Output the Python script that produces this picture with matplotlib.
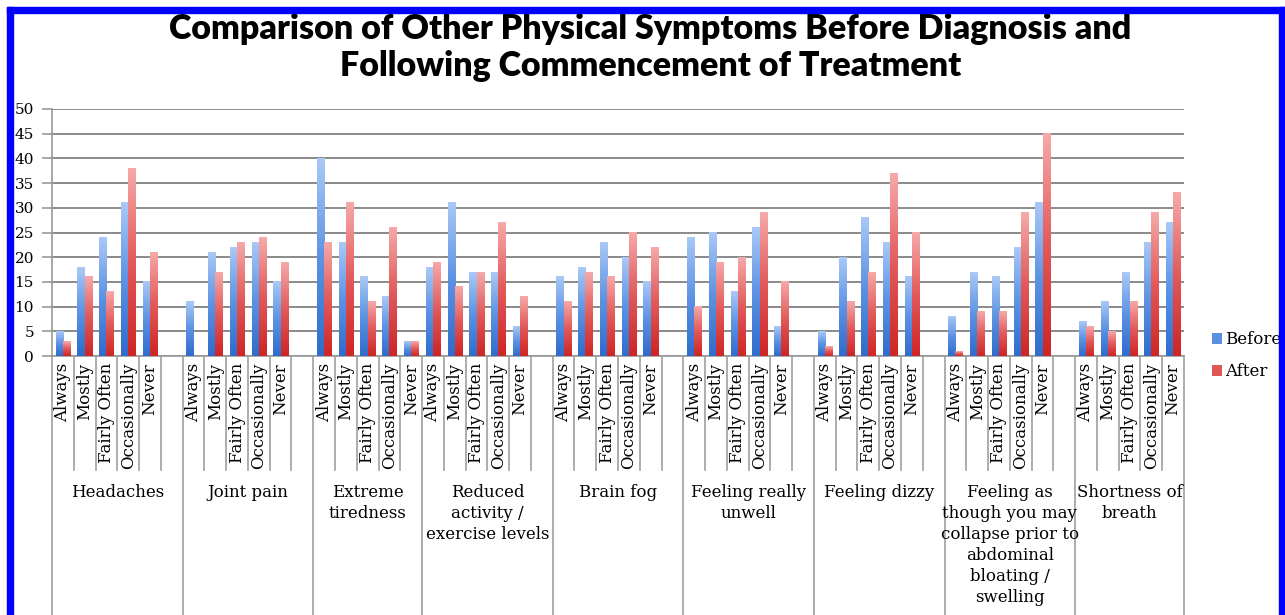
import numpy as np
import matplotlib
matplotlib.use("Agg")
import matplotlib.pyplot as plt
from matplotlib.colors import LinearSegmentedColormap
from matplotlib.patches import Rectangle, Patch

# Data
answers = ["Always", "Mostly", "Fairly Often", "Occasionally", "Never"]
symptoms = ["Headaches", "Joint pain", "Extreme\ntiredness",
            "Reduced\nactivity /\nexercise levels", "Brain fog",
            "Feeling really\nunwell", "Feeling dizzy",
            "Feeling as\nthough you may\ncollapse prior to\nabdominal\nbloating /\nswelling",
            "Shortness of\nbreath"]
# blank spacer category after each group (Excel chart had none after these two)
gap_after = [True, True, False, True, True, True, True, True, False]

before = [[5, 18, 24, 31, 15],
          [11, 21, 22, 23, 15],
          [40, 23, 16, 12, 3],
          [18, 31, 17, 17, 6],
          [16, 18, 23, 20, 15],
          [24, 25, 13, 26, 6],
          [5, 20, 28, 23, 16],
          [8, 17, 16, 22, 31],
          [7, 11, 17, 23, 27]]
after = [[3, 16, 13, 38, 21],
         [0, 17, 23, 24, 19],
         [23, 31, 11, 26, 3],
         [19, 14, 17, 27, 12],
         [11, 17, 16, 25, 22],
         [10, 19, 20, 29, 15],
         [2, 11, 17, 37, 25],
         [1, 9, 9, 29, 45],
         [6, 5, 11, 29, 33]]

serif = "DejaVu Serif"
W, H = 1285, 615
fig = plt.figure(figsize=(W / 100, H / 100), dpi=100)
ax = fig.add_axes([52 / W, 1 - 356 / H, (1184 - 52) / W, (356 - 109) / H])

# slot positions
slots = []
group_edges = []
pos = 0
for g in range(len(symptoms)):
    group_edges.append(pos)
    slots.extend(pos + k for k in range(5))
    pos += 5 + (1 if gap_after[g] else 0)
group_edges.append(pos)
n_slots = pos
slots = np.array(slots)

b_vals = np.array(before).ravel()
a_vals = np.array(after).ravel()

bw = 0.33
blue_cm = LinearSegmentedColormap.from_list("b", ["#2f6ccc", "#5d93e4", "#a9c8f6"])
red_cm = LinearSegmentedColormap.from_list("r", ["#cf2525", "#e25a5a", "#f6a8a8"])
grad = np.linspace(0, 1, 64).reshape(-1, 1)

bars_b = ax.bar(slots + 0.5 - bw / 2, b_vals, bw, color="none", zorder=3)
bars_a = ax.bar(slots + 0.5 + bw / 2, a_vals, bw, color="none", zorder=3)
for bars, cm in ((bars_b, blue_cm), (bars_a, red_cm)):
    for r in bars:
        h = r.get_height()
        if h <= 0:
            continue
        x0 = r.get_x()
        ax.imshow(grad, cmap=cm, origin="lower", aspect="auto", zorder=3,
                  extent=[x0, x0 + r.get_width(), 0, h], interpolation="bilinear")

ax.set_xlim(0, n_slots)
ax.set_ylim(0, 50)
ax.set_yticks(range(0, 51, 5))
ax.yaxis.grid(True, color="#8a8a8a", linewidth=1.4, zorder=0)
ax.set_axisbelow(True)
ax.set_xticks([])
for s in ["top", "right"]:
    ax.spines[s].set_visible(False)
for s in ["left", "bottom"]:
    ax.spines[s].set_color("#9a9a9a")
    ax.spines[s].set_linewidth(1.2)
ax.tick_params(axis="y", length=7, color="#9a9a9a", width=1.2, pad=6,
               labelsize=11)
for t in ax.get_yticklabels():
    t.set_fontfamily(serif)

# category separators under the axis
for e in range(n_slots + 1):
    bottom = -1.2 if e in group_edges else -0.46
    ax.plot([e, e], [0, bottom], transform=ax.get_xaxis_transform(),
            color="#a0a0a0", lw=1.2, clip_on=False)

for i, s in enumerate(slots):
    ax.text(s + 0.5, -0.028, answers[i % 5], rotation=90, ha="center", va="top",
            transform=ax.get_xaxis_transform(), fontsize=12, family=serif)

for g, name in enumerate(symptoms):
    cx = (group_edges[g] + group_edges[g + 1]) / 2
    ax.text(cx, -0.52, name, ha="center", va="top", transform=ax.get_xaxis_transform(),
            fontsize=12, family=serif, linespacing=1.3)

fig.text(0.506, 1 - 13 / H,
         "Comparison of Other Physical Symptoms Before Diagnosis and\n"
         "Following Commencement of Treatment",
         ha="center", va="top", fontsize=24.5, fontweight="heavy", family="Lato",
         linespacing=1.18)

handles = [Patch(facecolor="#5a8fe0"), Patch(facecolor="#e05555")]
fig.legend(handles, ["Before", "After"], loc="center left",
           bbox_to_anchor=(1212 / W, 1 - 356 / H), frameon=False,
           prop={"family": serif, "size": 12}, handlelength=0.6, handleheight=0.6,
           handletextpad=0.2, labelspacing=0.9, borderpad=0, borderaxespad=0)

# blue frame
blue = "#0000ff"
fig.add_artist(Rectangle((7 / W, 0), 6 / W, 1 - 7 / H, transform=fig.transFigure,
                         color=blue, zorder=10))
fig.add_artist(Rectangle((7 / W, 1 - 13 / H), 1 - 7 / W, 6 / H, transform=fig.transFigure,
                         color=blue, zorder=10))
fig.add_artist(Rectangle((1279 / W, 0), 6 / W, 1 - 7 / H, transform=fig.transFigure,
                         color=blue, zorder=10))

fig.savefig("out.png", dpi=100)
